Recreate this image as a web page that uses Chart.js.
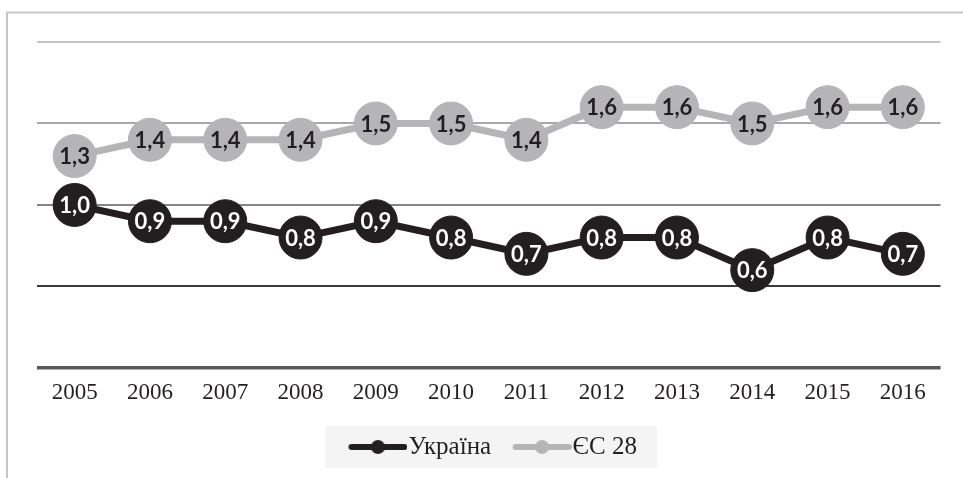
<!DOCTYPE html>
<html>
<head>
<meta charset="utf-8">
<script src="https://cdn.jsdelivr.net/npm/chart.js@4/dist/chart.umd.min.js"></script>
<style>
	html, body { margin: 0; padding: 0; background: #fff; }
	#wrap { width: 963px; height: 478px; position: relative; }
</style>
</head>
<body>
<div id="wrap"><canvas id="myChart" width="963" height="478"></canvas></div>
<script>
const years = ['2005', '2006', '2007', '2008', '2009', '2010', '2011', '2012', '2013', '2014', '2015', '2016']
const ukraine = [1.0, 0.9, 0.9, 0.8, 0.9, 0.8, 0.7, 0.8, 0.8, 0.6, 0.8, 0.7]
const eu28 = [1.3, 1.4, 1.4, 1.4, 1.5, 1.5, 1.4, 1.6, 1.6, 1.5, 1.6, 1.6]
const seriesNames = ['Україна', 'ЄС 28']

const dark = '#231f20'
const grey = '#b5b5b7'

// legend marker: line with a dot in the middle (left part left blank to push it right)
const marker = (color) => {
	const c = document.createElement('canvas')
	c.width = 75
	c.height = 16
	const g = c.getContext('2d')
	g.strokeStyle = color
	g.lineWidth = 6
	g.lineCap = 'round'
	g.beginPath()
	g.moveTo(19, 8)
	g.lineTo(72, 8)
	g.stroke()
	g.fillStyle = color
	g.beginPath()
	g.arc(45.5, 8, 7, 0, Math.PI * 2)
	g.fill()
	return c
}

const gridColors = { 0: '#595959', 0.5: '#3a3a3a', 1: '#858585', 1.5: '#a8a8a8', 2: '#c4c4c4' }

const framePlugin = {
	id: 'frame',
	beforeDraw(chart) {
		const ctx = chart.ctx
		ctx.save()
		ctx.strokeStyle = '#c6c6c6'
		ctx.lineWidth = 2
		ctx.beginPath()
		ctx.moveTo(7, 478)
		ctx.lineTo(7, 12.5)
		ctx.lineTo(963, 12.5)
		ctx.stroke()
		// legend background
		const boxes = chart.legend.legendHitBoxes
		if (boxes && boxes.length) {
			const l = Math.min(...boxes.map((b) => b.left))
			const r = Math.max(...boxes.map((b) => b.left + b.width))
			const t = Math.min(...boxes.map((b) => b.top))
			const h = boxes[0].height
			const cy = t + h / 2
			ctx.fillStyle = '#f4f4f4'
			ctx.fillRect(l - 18.5, cy - 21, r - l + 38.5, 42)
		}
		ctx.restore()
	},
}

const labelPlugin = {
	id: 'pointLabels',
	afterDatasetsDraw(chart) {
		const ctx = chart.ctx
		ctx.save()
		ctx.font = 'bold 22px Lato'
		ctx.textAlign = 'center'
		ctx.textBaseline = 'middle'
		chart.data.datasets.forEach((ds, i) => {
			const meta = chart.getDatasetMeta(i)
			ctx.fillStyle = i === 0 ? '#ffffff' : dark
			meta.data.forEach((pt, j) => {
				ctx.fillText(ds.data[j].toFixed(1).replace('.', ','), pt.x, pt.y + 1)
			})
		})
		ctx.restore()
	},
}

const ctx = document.getElementById('myChart').getContext('2d')
const myChart = new Chart(ctx, {
	type: 'line',
	data: {
		labels: years,
		datasets: [
			{
				label: seriesNames[0],
				data: ukraine,
				borderColor: dark,
				backgroundColor: dark,
				borderWidth: 7,
				pointRadius: 21.5,
				pointBorderWidth: 1,
				pointBackgroundColor: dark,
				pointBorderColor: dark,
			},
			{
				label: seriesNames[1],
				data: eu28,
				borderColor: grey,
				backgroundColor: grey,
				borderWidth: 7,
				pointRadius: 21.5,
				pointBorderWidth: 1,
				pointBackgroundColor: grey,
				pointBorderColor: grey,
			},
		],
	},
	options: {
		responsive: false,
		animation: false,
		elements: { point: { pointStyle: 'circle' } },
		layout: { padding: { left: 37, right: 19, top: 42, bottom: 8.5 } },
		scales: {
			x: {
				offset: true,
				grid: { display: false, drawTicks: false },
				border: { display: false },
				ticks: {
					color: dark,
					padding: 11,
					font: { family: 'Liberation Serif', size: 23 },
				},
			},
			y: {
				min: 0,
				max: 2,
				ticks: { display: false, stepSize: 0.5 },
				border: { display: false },
				grid: {
					drawTicks: false,
					color: (c) => gridColors[c.tick.value] || '#999',
					lineWidth: (c) => (c.tick.value === 0 ? 3.5 : 2),
				},
			},
		},
		plugins: {
			tooltip: { enabled: false },
			legend: {
				position: 'bottom',
				labels: {
					color: dark,
					font: { family: 'Liberation Serif', size: 25 },
					usePointStyle: true,
					pointStyleWidth: 52,
					padding: 17,
					generateLabels: (chart) =>
						chart.data.datasets.map((ds, i) => ({
							text: ds.label,
							fontColor: dark,
							pointStyle: marker(ds.borderColor),
							datasetIndex: i,
							lineWidth: 0,
							strokeStyle: 'transparent',
							fillStyle: ds.borderColor,
						})),
				},
			},
		},
	},
	plugins: [framePlugin, labelPlugin],
})
</script>
</body>
</html>
